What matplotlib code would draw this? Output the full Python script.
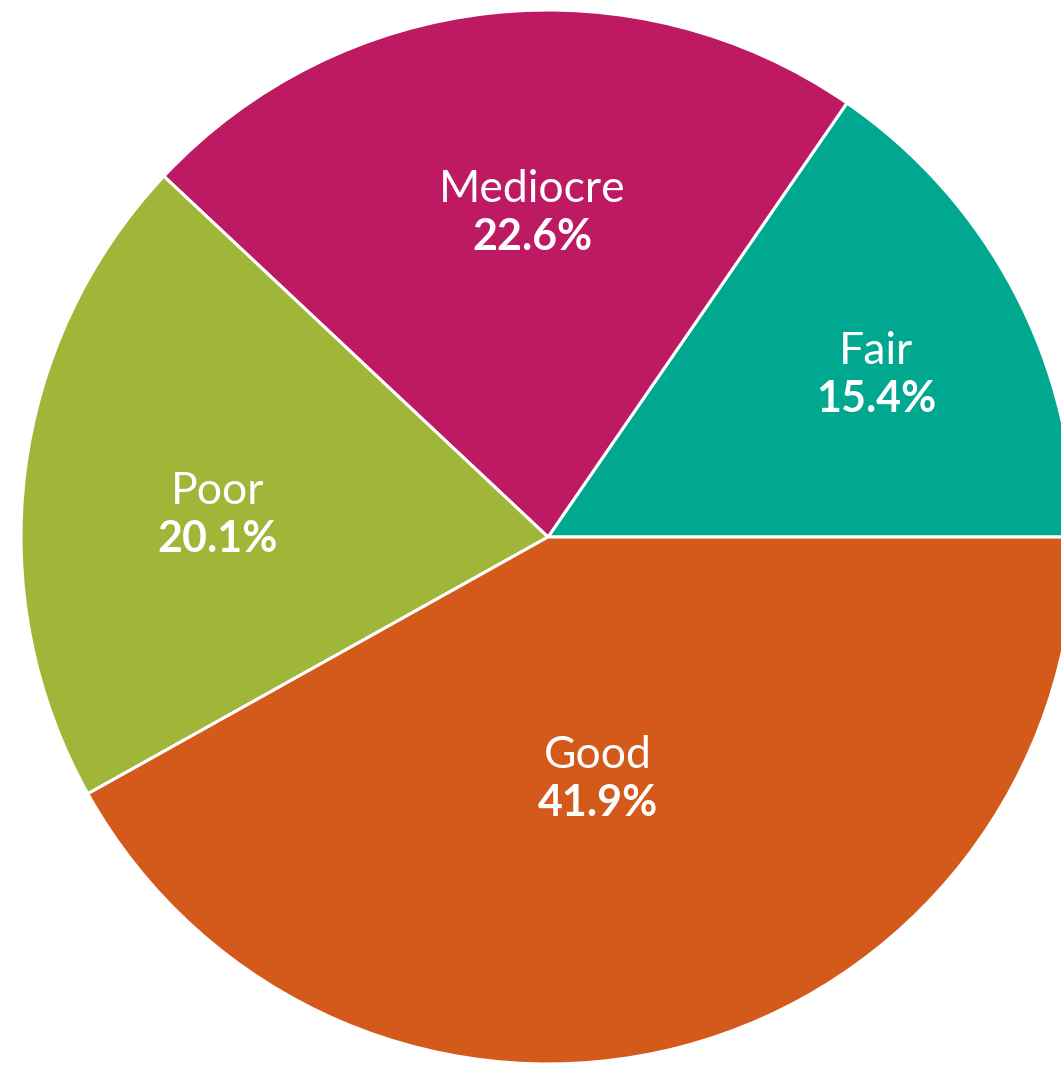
import matplotlib.pyplot as plt

# Share of ratings, counterclockwise from the 3 o'clock position
categories = ['Fair', 'Mediocre', 'Poor', 'Good']
shares = [15.4, 22.6, 20.1, 41.9]
colors = ['#00A88F', '#BE1A63', '#A0B638', '#D35A1B']

# label anchor (pixels, from top-left) for each wedge
label_xy = [(876, 376), (532, 214), (218, 516), (598, 780)]

W, H = 1061, 1067
fig = plt.figure(figsize=(W / 100, H / 100), dpi=100)
ax = fig.add_axes([0, 0, 1, 1])

cx, cy, r = 548, 537, 527
ax.pie(shares, colors=colors, startangle=0, counterclock=True,
       radius=r, center=(cx, H - cy),
       wedgeprops=dict(edgecolor='white', linewidth=2.2))

for name, val, (x, y) in zip(categories, shares, label_xy):
    ax.text(x, H - y + 25, name, ha='center', va='center',
            color='white', fontsize=32, family='Lato')
    ax.text(x, H - y - 23, f'{val:.1f}%', ha='center', va='center',
            color='white', fontsize=31, fontweight='bold', family='Lato')

ax.set_xlim(0, W)
ax.set_ylim(0, H)
ax.set_aspect('equal')
ax.axis('off')

fig.savefig('out.png', dpi=100)
